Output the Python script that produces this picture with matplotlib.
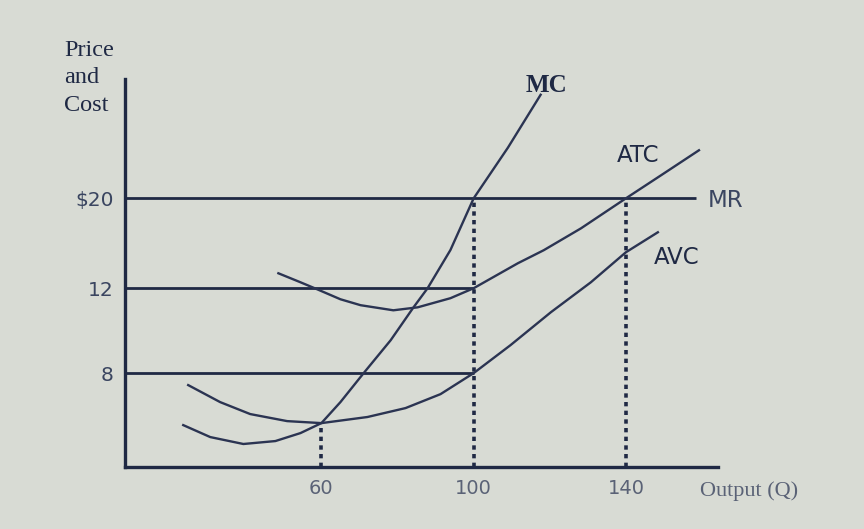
import numpy as np
import matplotlib
matplotlib.use("Agg")
import matplotlib.pyplot as plt

# ---- data (Q = output, values in $) ----
mc_q = [23.7, 30.8, 39.5, 47.9, 54.5, 60, 65, 71.1, 78.2, 84.2, 87.9, 93.9, 100, 109, 117.6]
mc_v = [3.57, 2.55, 1.96, 2.21, 2.89, 3.74, 5.53, 8.0, 9.55, 11.1, 12.0, 15.4, 20.0, 24.5, 29.2]

atc_q = [48.7, 54.5, 58.9, 65, 70.3, 78.9, 85.3, 93.9, 100, 111.6, 118.4, 128.2, 140, 149.2, 159.2]
atc_v = [13.33, 12.53, 11.95, 11.48, 11.2, 10.96, 11.1, 11.53, 12.0, 14.22, 15.38, 17.33, 20.0, 22.04, 24.27]

avc_q = [25, 33.4, 41.3, 51, 60, 72.1, 82.1, 91.3, 100, 109.7, 120.3, 130.8, 140, 148.4]
avc_v = [6.98, 5.53, 4.51, 3.91, 3.74, 4.26, 5.02, 6.21, 8.0, 9.32, 10.87, 12.53, 15.2, 16.98]

price_mr = 20
mr_end_q = 158.4
levels = [12, 8]          # horizontal guides ending at Q=100
level_end_q = 100
dotted_q = [60, 100, 140]
dotted_top = [3.74, 20, 20]

x_ticks = [60, 100, 140]
x_tick_labels = ["60", "100", "140"]
y_ticks = [20, 12, 8]
y_tick_labels = ["$20", "12", "8"]

# non-linear (schematic) value axis: value anchors -> drawing positions
Y_VALS = [0, 8, 12, 20, 31]
Y_POS = [0, 94, 179, 269, 393]

def fwd(v):
    return np.interp(v, Y_VALS, Y_POS)

def inv(p):
    return np.interp(p, Y_POS, Y_VALS)

BG = "#d8dbd4"
INK = "#1f2944"
CURVE = "#2b3452"

fig = plt.figure(figsize=(8.64, 5.29), dpi=100, facecolor=BG)
ax = fig.add_axes([125/864, 1-467/529, (718-125)/864, (467-79)/529])
ax.set_facecolor(BG)
ax.set_yscale("function", functions=(fwd, inv))
ax.set_xlim(8.4, 164.2)
ax.set_ylim(0, 30.6)

for s in ["top", "right"]:
    ax.spines[s].set_visible(False)
for s in ["left", "bottom"]:
    ax.spines[s].set_linewidth(2.4)
    ax.spines[s].set_color(INK)

# horizontal lines
ax.plot([8.4, mr_end_q], [price_mr, price_mr], color=INK, lw=2.0, solid_capstyle="butt")
for lv in levels:
    ax.plot([8.4, level_end_q], [lv, lv], color=INK, lw=2.0, solid_capstyle="butt")

# dotted verticals
for q, top in zip(dotted_q, dotted_top):
    ax.plot([q, q], [0, top], color=INK, lw=2.6, linestyle=(0, (1.2, 1.2)))

# curves
ax.plot(mc_q, mc_v, color=CURVE, lw=1.7)
ax.plot(atc_q, atc_v, color=CURVE, lw=1.7)
ax.plot(avc_q, avc_v, color=CURVE, lw=1.7)

# ticks
ax.set_xticks(x_ticks)
ax.set_xticklabels(x_tick_labels)
ax.set_yticks(y_ticks)
ax.set_yticklabels(y_tick_labels)
ax.yaxis.set_minor_locator(matplotlib.ticker.NullLocator())
ax.tick_params(axis="x", length=0, pad=9, labelsize=14, labelcolor="#5a6276")
ax.tick_params(axis="y", length=0, pad=8, labelsize=14.5, labelcolor="#3a4560")

# curve labels
ax.text(119.2, 30.0, "MC", fontsize=18, fontweight="bold", family="Liberation Serif",
        color=INK, ha="center", va="center")
ax.text(143.2, 23.8, "ATC", fontsize=16.5, color=INK, ha="center", va="center")
ax.text(166.3, 19.8, "MR", fontsize=16.5, color="#3a4560", ha="center", va="center")
ax.text(153.4, 14.7, "AVC", fontsize=16.5, color=INK, ha="center", va="center")

# axis titles
fig.text(64/864, 1-40/529, "Price\nand\nCost", fontsize=17.5, family="Liberation Serif",
         color=INK, ha="left", va="top", linespacing=1.4)
fig.text(700/864, 1-491/529, "Output (Q)", fontsize=16, family="Liberation Serif",
         color="#5a6276", ha="left", va="center")

fig.savefig("out.png", dpi=100, facecolor=BG)
